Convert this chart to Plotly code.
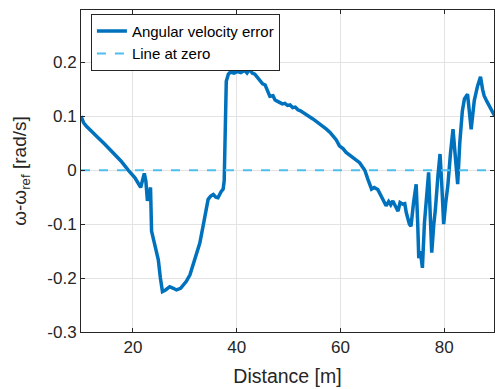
import plotly.graph_objects as go

distance = [10.0, 10.5, 11.0, 11.7, 13.0, 14.5, 16.2, 17.7, 19.1, 20.4, 21.5, 21.9, 22.2, 22.5, 22.8,
            23.1, 23.4, 23.6, 24.2, 24.9, 25.3, 25.7, 26.3, 27.1, 27.8, 28.4, 29.2, 30.3, 31.0, 32.0,
            32.9, 33.7, 34.5, 35.0, 35.5, 36.0, 36.4, 37.0, 37.4, 37.6, 37.8, 38.0, 38.4, 38.8, 39.5,
            40.2, 40.8, 41.5, 42.0, 42.5, 43.0, 43.5, 44.0, 44.5, 45.0, 45.5, 46.0, 46.4, 47.0, 47.4,
            47.8, 48.3, 48.8, 49.3, 49.8, 50.3, 50.8, 51.3, 51.8, 52.3, 52.8, 53.4, 54.1, 54.7, 55.4,
            56.0, 56.7, 57.3, 58.0, 58.6, 59.2, 59.8, 60.5, 61.1, 61.8, 62.4, 63.1, 63.7, 64.2, 64.7,
            65.3, 66.0, 66.5, 67.2, 67.7, 68.2, 68.8, 69.3, 69.7, 70.1, 70.6, 71.1, 71.5, 72.0, 72.4,
            72.7, 73.3, 73.6, 74.1, 74.6, 74.9, 75.1, 75.4, 75.8, 76.2, 76.6, 77.0, 77.3, 77.6, 78.0,
            78.3, 78.8, 79.2, 79.5, 79.9, 80.3, 80.7, 81.2, 81.7, 82.1, 82.6, 83.0, 83.5, 83.9, 84.5,
            85.2, 85.8, 86.4, 87.0, 87.4, 87.7, 88.2, 88.7, 89.3, 89.7]

omega_error = [0.100, 0.088, 0.082, 0.076, 0.063, 0.049, 0.033, 0.017, 0.000, -0.014, -0.032, -0.020, -0.006, -0.020, -0.057,
               -0.045, -0.032, -0.113, -0.135, -0.166, -0.200, -0.225, -0.222, -0.216, -0.219, -0.222, -0.219, -0.206, -0.194, -0.165,
               -0.135, -0.095, -0.054, -0.048, -0.045, -0.050, -0.051, -0.040, -0.035, -0.020, 0.100, 0.165, 0.178, 0.182, 0.180,
               0.183, 0.181, 0.185, 0.180, 0.187, 0.180, 0.178, 0.172, 0.166, 0.160, 0.158, 0.145, 0.137, 0.138, 0.130,
               0.128, 0.126, 0.123, 0.124, 0.120, 0.121, 0.116, 0.117, 0.112, 0.110, 0.107, 0.104, 0.099, 0.095, 0.090,
               0.086, 0.080, 0.076, 0.070, 0.064, 0.056, 0.045, 0.040, 0.033, 0.028, 0.023, 0.018, 0.014, 0.007, 0.000,
               -0.017, -0.035, -0.032, -0.036, -0.045, -0.054, -0.066, -0.058, -0.064, -0.057, -0.068, -0.076, -0.060, -0.063, -0.062,
               -0.079, -0.100, -0.104, -0.060, -0.026, -0.100, -0.163, -0.150, -0.181, -0.097, -0.040, -0.004, -0.080, -0.153, -0.100,
               -0.073, -0.010, 0.030, -0.020, -0.100, -0.060, -0.029, 0.030, 0.076, 0.030, -0.026, 0.050, 0.110, 0.132, 0.141,
               0.076, 0.129, 0.155, 0.173, 0.150, 0.138, 0.128, 0.120, 0.110, 0.101]

zero_x = [10.0, 89.6]
zero_y = [0.0, 0.0]

x_ticks = [20, 40, 60, 80]
y_ticks = [-0.3, -0.2, -0.1, 0, 0.1, 0.2]
y_tick_labels = ["-0.3", "-0.2", "-0.1", "0", "0.1", "0.2"]

FONT = "Liberation Sans, Arial, Helvetica, sans-serif"
TXT = "#262626"

fig = go.Figure()
fig.add_trace(go.Scatter(x=distance, y=omega_error, mode="lines", name="Angular velocity error",
                         line=dict(color="#0072BD", width=3.5)))
fig.add_trace(go.Scatter(x=zero_x, y=zero_y, mode="lines", name="Line at zero",
                         line=dict(color="#4DBEEE", width=2, dash="dash")))

axis_common = dict(showline=True, linecolor=TXT, linewidth=1, mirror="ticks",
                   ticks="inside", ticklen=4, tickcolor=TXT,
                   showgrid=True, gridcolor="#e3e3e3", gridwidth=1, zeroline=False,
                   tickfont=dict(family=FONT, size=17, color=TXT))

fig.update_layout(
    width=495, height=389,
    margin=dict(l=81, r=1, t=10, b=57),
    plot_bgcolor="white", paper_bgcolor="white",
    font=dict(family=FONT, color=TXT),
    xaxis=dict(range=[10, 89.6], tickvals=x_ticks,
               title=dict(text="Distance [m]", font=dict(family=FONT, size=19.5, color=TXT), standoff=12),
               **axis_common),
    yaxis=dict(range=[-0.3, 0.297], tickvals=y_ticks, ticktext=y_tick_labels,
               title=dict(text="ω-ω<sub>ref</sub> [rad/s]", font=dict(family=FONT, size=19, color=TXT), standoff=15),
               **axis_common),
    legend=dict(x=0.024, y=0.988, xanchor="left", yanchor="top",
                bgcolor="white", bordercolor=TXT, borderwidth=1,
                font=dict(family=FONT, size=15, color="#000000"),
                tracegroupgap=0, itemwidth=30),
    showlegend=True,
)

fig.write_html("out.html")
